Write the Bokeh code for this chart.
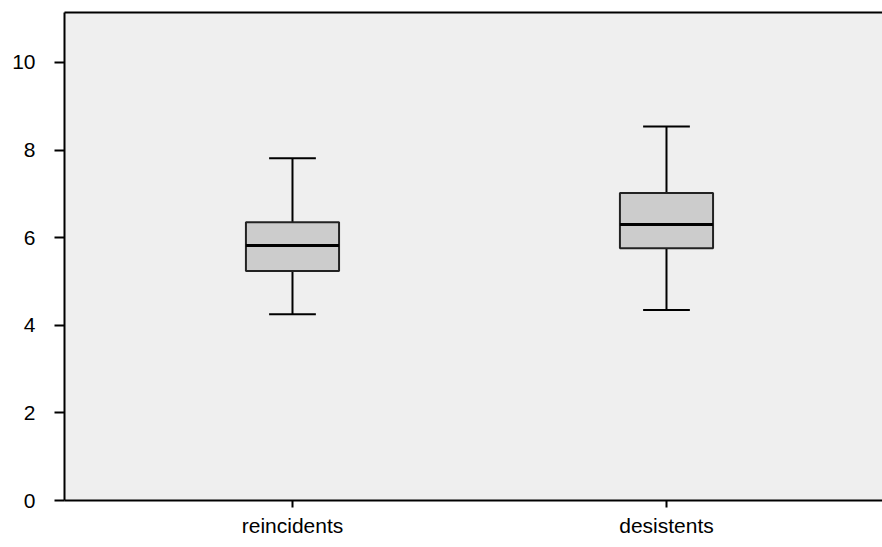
from bokeh.plotting import figure
from bokeh.models import Range1d, FixedTicker, LinearAxis
from bokeh.embed import file_html
from bokeh.resources import INLINE

categories = ["reincidents", "desistents"]
whisker_low = [4.25, 4.35]
q1 = [5.24, 5.76]
median = [5.82, 6.30]
q3 = [6.35, 7.02]
whisker_high = [7.81, 8.54]
y_ticks = [0, 2, 4, 6, 8, 10]

xs = [i + 0.5 for i in range(len(categories))]
box_w = 0.249
cap_w = 0.125

p = figure(width=882, height=547, output_backend="svg", toolbar_location=None,
           x_range=Range1d(-0.1096, -0.1096 + 818 / 374), y_range=Range1d(0, 11.14),
           min_border_left=64, min_border_right=0, min_border_top=12, min_border_bottom=47)
p.background_fill_color = "#efefef"
p.border_fill_color = "white"
p.outline_line_color = None
p.grid.visible = False

# whiskers
p.segment(x0=xs, y0=q3, x1=xs, y1=whisker_high, line_color="black", line_width=2)
p.segment(x0=xs, y0=whisker_low, x1=xs, y1=q1, line_color="black", line_width=2)
# caps
p.segment(x0=[x - cap_w / 2 for x in xs], y0=whisker_high, x1=[x + cap_w / 2 for x in xs],
          y1=whisker_high, line_color="black", line_width=2)
p.segment(x0=[x - cap_w / 2 for x in xs], y0=whisker_low, x1=[x + cap_w / 2 for x in xs],
          y1=whisker_low, line_color="black", line_width=2)
# boxes
p.vbar(x=xs, width=box_w, bottom=q1, top=q3, fill_color="#cccccc", line_color="#222222", line_width=2)
# medians
p.segment(x0=[x - box_w / 2 for x in xs], y0=median, x1=[x + box_w / 2 for x in xs],
          y1=median, line_color="black", line_width=3)

font = "Liberation Sans"
p.xaxis.ticker = FixedTicker(ticks=xs)
p.xaxis.major_label_overrides = {x: c for x, c in zip(xs, categories)}
p.yaxis.ticker = FixedTicker(ticks=y_ticks)
for ax in (p.xaxis, p.yaxis):
    ax.axis_line_color = "black"
    ax.axis_line_width = 2
    ax.major_tick_line_color = "black"
    ax.major_tick_line_width = 2
    ax.minor_tick_line_color = None
    ax.major_tick_in = 0
    ax.major_label_text_font = font
    ax.major_label_text_font_size = "21px"
    ax.major_label_text_color = "black"
p.yaxis.major_tick_out = 10
p.yaxis.major_label_standoff = 19
p.xaxis.major_tick_out = 7
p.xaxis.major_label_standoff = 6

top = LinearAxis(ticker=FixedTicker(ticks=[]), axis_line_color="black", axis_line_width=2,
                 major_tick_line_color=None, minor_tick_line_color=None,
                 major_label_text_font_size="0px")
p.add_layout(top, "above")

open("out.html", "w").write(file_html(p, INLINE))
